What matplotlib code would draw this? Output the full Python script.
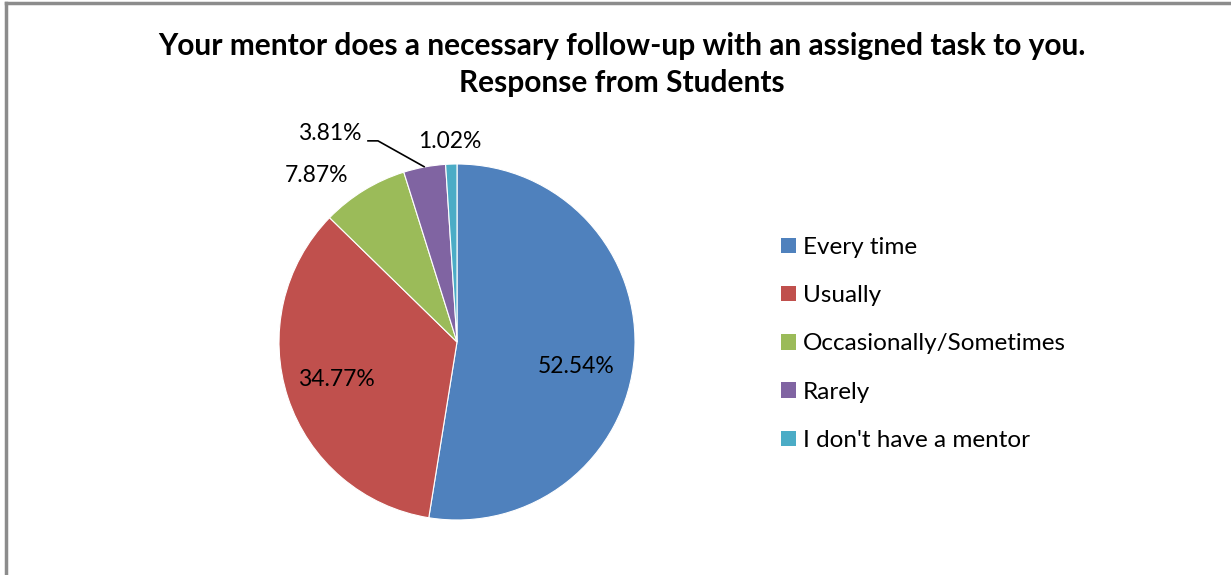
import matplotlib.pyplot as plt
from matplotlib.patches import Patch
from matplotlib.lines import Line2D

categories = ['Every time', 'Usually', 'Occasionally/Sometimes', 'Rarely', "I don't have a mentor"]
values = [52.54, 34.77, 7.87, 3.81, 1.02]
colors = ['#4F81BD', '#C0504D', '#9BBB59', '#8064A2', '#4BACC6']

plt.rcParams['font.family'] = ['Lato', 'DejaVu Sans']

W, H = 1231, 575
fig = plt.figure(figsize=(W / 100, H / 100), dpi=100)

# chart frame (top and left edges visible)
fig.add_artist(Line2D([6 / W, 6 / W], [0, 1 - 3 / H], color='#8c8c8c', lw=2.5))
fig.add_artist(Line2D([6 / W, 1], [1 - 3 / H, 1 - 3 / H], color='#8c8c8c', lw=2.5))

fig.text(622 / W, 1 - 55 / H, 'Your mentor does a necessary follow-up with an assigned task to you.',
         ha='center', va='baseline', fontsize=21.5, fontweight='bold')
fig.text(622 / W, 1 - 92 / H, 'Response from Students',
         ha='center', va='baseline', fontsize=21.5, fontweight='bold')

# pie: center (457, 342) px, radius 178 px
ax = fig.add_axes([279 / W, 1 - 520 / H, 356 / W, 356 / H])
wedges, _ = ax.pie(values, colors=colors, startangle=90, counterclock=False,
                   wedgeprops=dict(edgecolor='white', linewidth=0.8))
ax.set_xlim(-1, 1)
ax.set_ylim(-1, 1)
ax.set_aspect('auto')
ax.axis('off')

label_pos = [(0.669, -0.140), (-0.680, -0.213), (-0.787, 0.938), (-0.716, 1.169), (-0.039, 1.129)]
for v, (x, y) in zip(values, label_pos):
    ax.text(x, y, f'{v:.2f}%', ha='center', va='center', fontsize=16.5, clip_on=False)

# leader line for the small "Rarely" label
ax.plot([-0.5, -0.444, -0.185], [1.13, 1.13, 0.985], color='black', lw=1.2, clip_on=False)

handles = [Patch(facecolor=c, edgecolor='none') for c in colors]
fig.legend(handles, categories, loc='upper left', bbox_to_anchor=(781 / W, 1 - 237 / H),
           frameon=False, fontsize=17.5, handlelength=0.6, handleheight=0.6,
           handletextpad=0.3, labelspacing=1.12, borderpad=0, borderaxespad=0)

plt.savefig('out.png', dpi=100)
